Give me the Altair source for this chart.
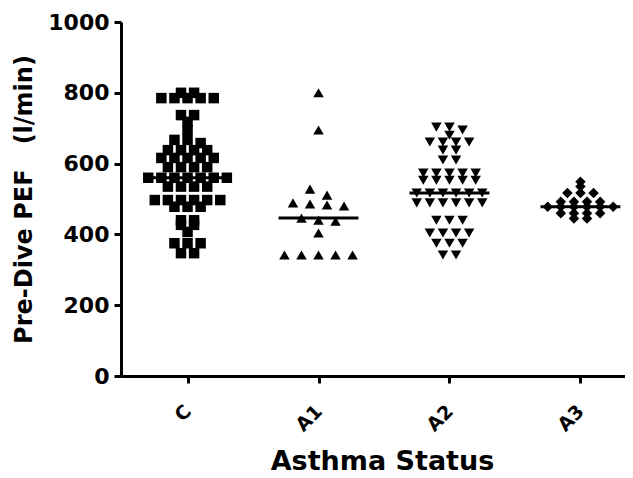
import altair as alt
import pandas as pd
import numpy as np

groups = ["C", "A1", "A2", "A3"]
shapes = ["square", "triangle-up", "triangle-down", "diamond"]

c_vals = [800, 800, 785, 785, 785, 785, 785, 737, 737, 718, 695, 667, 667, 658,
          638, 638, 638, 638, 616, 616, 616, 616, 616, 590, 590, 590, 590,
          560, 560, 560, 560, 560, 560, 560, 535, 535, 535, 535,
          497, 497, 497, 497, 497, 497, 478, 478, 478, 440, 440, 427, 427, 407,
          375, 375, 375, 347, 347]
a1_vals = [800, 695, 528, 511, 489, 486, 483, 480, 446, 440, 437, 404,
           342, 342, 342, 342, 342]
a2_vals = [703, 703, 695, 680, 661, 661, 661, 661, 638, 638, 610, 610,
           573, 573, 573, 573, 573, 553, 553, 553, 553, 553,
           517, 517, 517, 517, 517, 517, 489, 489, 489, 489, 489, 489,
           440, 440, 440, 404, 404, 404, 404, 375, 375, 375, 342, 342]
a3_vals = [549, 535, 517, 517, 517, 492, 492, 492, 492, 478, 478, 478, 478, 478, 478,
           460, 460, 460, 460, 445, 445]

series = [c_vals, a1_vals, a2_vals, a3_vals]
row_tol = [10, 20, 10, 10]
row_step = [0.1, 0.13, 0.1, 0.1]


def row_offsets(vals, tol, step):
    order = sorted(range(len(vals)), key=lambda i: -vals[i])
    rows = []
    for i in order:
        if rows and rows[-1][0][1] - vals[i] <= tol:
            rows[-1].append((i, vals[i]))
        else:
            rows.append([(i, vals[i])])
    offs = [0.0] * len(vals)
    for r in rows:
        m = len(r)
        for j, (i, v) in enumerate(r):
            offs[i] = (j - (m - 1) / 2) * step
    return offs


recs = []
meds = []
for gi, (g, vals) in enumerate(zip(groups, series)):
    offs = row_offsets(vals, row_tol[gi], row_step[gi])
    for v, o in zip(vals, offs):
        recs.append({"group": g, "gi": gi, "value": v, "xpos": gi + o})
    meds.append({"group": g, "x1": gi - 0.305, "x2": gi + 0.305,
                 "median": float(np.median(vals))})

df = pd.DataFrame(recs)
mdf = pd.DataFrame(meds)

label_expr = "[" + ",".join("'%s'" % g for g in groups) + "][datum.value]"

x_scale = alt.Scale(domain=[-0.508, 3.34], nice=False, zero=False)
y_scale = alt.Scale(domain=[0, 1000], nice=False)

x_axis = alt.Axis(values=[0, 1, 2, 3], labelExpr=label_expr, labelAngle=315,
                  labelAlign="right", labelBaseline="middle", labelPadding=25,
                  labelFont="DejaVu Sans", labelFontSize=19, labelFontWeight="bold",
                  labelColor="black",
                  title="Asthma Status", titleFont="DejaVu Sans", titleFontSize=27,
                  titleFontWeight="bold", titleColor="black",
                  titleX=261, titleY=93, titleAlign="center", titleBaseline="alphabetic")
y_axis = alt.Axis(values=[0, 200, 400, 600, 800, 1000], format="d",
                  labelFont="DejaVu Sans",
                  labelFontSize=22, labelFontWeight="bold", labelColor="black",
                  labelPadding=5,
                  title="Pre-Dive PEF\u00a0\u00a0\u00a0(l/min)", titleFont="DejaVu Sans",
                  titleFontSize=24, titleFontWeight="bold", titleColor="black",
                  titleX=-90, titleY=177, titleAngle=270, titleAlign="center",
                  titleBaseline="alphabetic")

points = alt.Chart(df).mark_point(filled=True, opacity=1, color="black",
                                  strokeWidth=0, size=110).encode(
    x=alt.X("xpos:Q", scale=x_scale, axis=x_axis),
    y=alt.Y("value:Q", scale=y_scale, axis=y_axis),
    shape=alt.Shape("group:N", scale=alt.Scale(domain=groups, range=shapes), legend=None),
)

medians = alt.Chart(mdf).mark_rule(color="black", strokeWidth=3).encode(
    x=alt.X("x1:Q", scale=x_scale),
    x2="x2:Q",
    y=alt.Y("median:Q", scale=y_scale),
)

chart = alt.layer(points, medians).properties(
    width=504, height=354,
    padding={"left": 113, "top": 14, "right": 0, "bottom": 104},
    autosize="none",
).configure_view(stroke=None).configure_axis(
    grid=False, domainColor="black", domainWidth=3, tickColor="black",
    tickWidth=3, tickSize=7,
)

chart.save("out.html", embed_options={"renderer": "svg", "actions": False})
